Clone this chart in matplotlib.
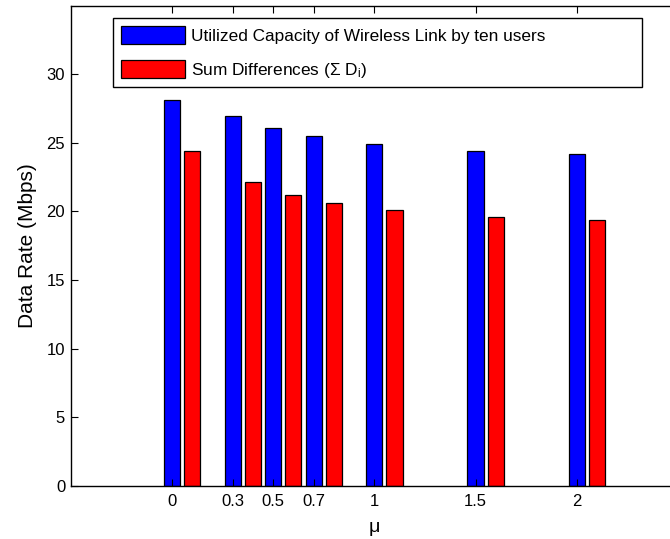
import matplotlib
matplotlib.use('Agg')
import matplotlib.pyplot as plt
import numpy as np

plt.rcParams['font.family'] = ['Liberation Sans', 'DejaVu Sans']
plt.rcParams['mathtext.fontset'] = 'custom'
plt.rcParams['mathtext.rm'] = 'Liberation Sans'
plt.rcParams['mathtext.it'] = 'Liberation Sans:italic'

# data
mu = [0, 0.3, 0.5, 0.7, 1, 1.5, 2]
mu_labels = ['0', '0.3', '0.5', '0.7', '1', '1.5', '2']
utilized = [28.16, 26.95, 26.07, 25.47, 24.94, 24.40, 24.16]
sum_diff = [24.38, 22.12, 21.22, 20.64, 20.13, 19.62, 19.35]

bar_w = 0.08
offset = 0.1

fig = plt.figure(figsize=(6.70, 5.39), dpi=100)
# axes run past the right edge (reference is cropped there)
ax = fig.add_axes([0.1055, 0.0989, 0.9064, 0.8905])

x = np.array(mu)
ax.bar(x, utilized, width=bar_w, color='#0000ff', edgecolor='black',
       linewidth=0.9, label='Utilized Capacity of Wireless Link by ten users')
ax.bar(x + offset, sum_diff, width=bar_w, color='#ff0000', edgecolor='black',
       linewidth=0.9, label=r'Sum Differences ($\Sigma$ D$_\mathrm{i}$)')

ax.set_xlim(-0.5, 2.5)
ax.set_ylim(0, 35)
ax.set_xticks(mu)
ax.set_xticklabels(mu_labels)
ax.set_yticks([0, 5, 10, 15, 20, 25, 30])
ax.tick_params(direction='in', top=True, right=True, length=5,
               labelsize=12, width=0.8)
ax.tick_params(axis='x', pad=6)
ax.tick_params(axis='y', pad=4)
for s in ax.spines.values():
    s.set_linewidth(1.0)

ax.set_xlabel('\u03bc', fontsize=14, labelpad=7)
ax.set_ylabel('Data Rate (Mbps)', fontsize=15, labelpad=7)

leg = ax.legend(loc='upper left', bbox_to_anchor=(0.0697, 0.974, 0.871, 0),
                mode='expand', borderaxespad=0, fontsize=12.4,
                handlelength=3.75, handleheight=1.25, handletextpad=0.3,
                labelspacing=0.9, borderpad=0.45, fancybox=False,
                framealpha=1, edgecolor='black')
leg.get_frame().set_linewidth(1.0)

fig.savefig('out.png', dpi=100)
